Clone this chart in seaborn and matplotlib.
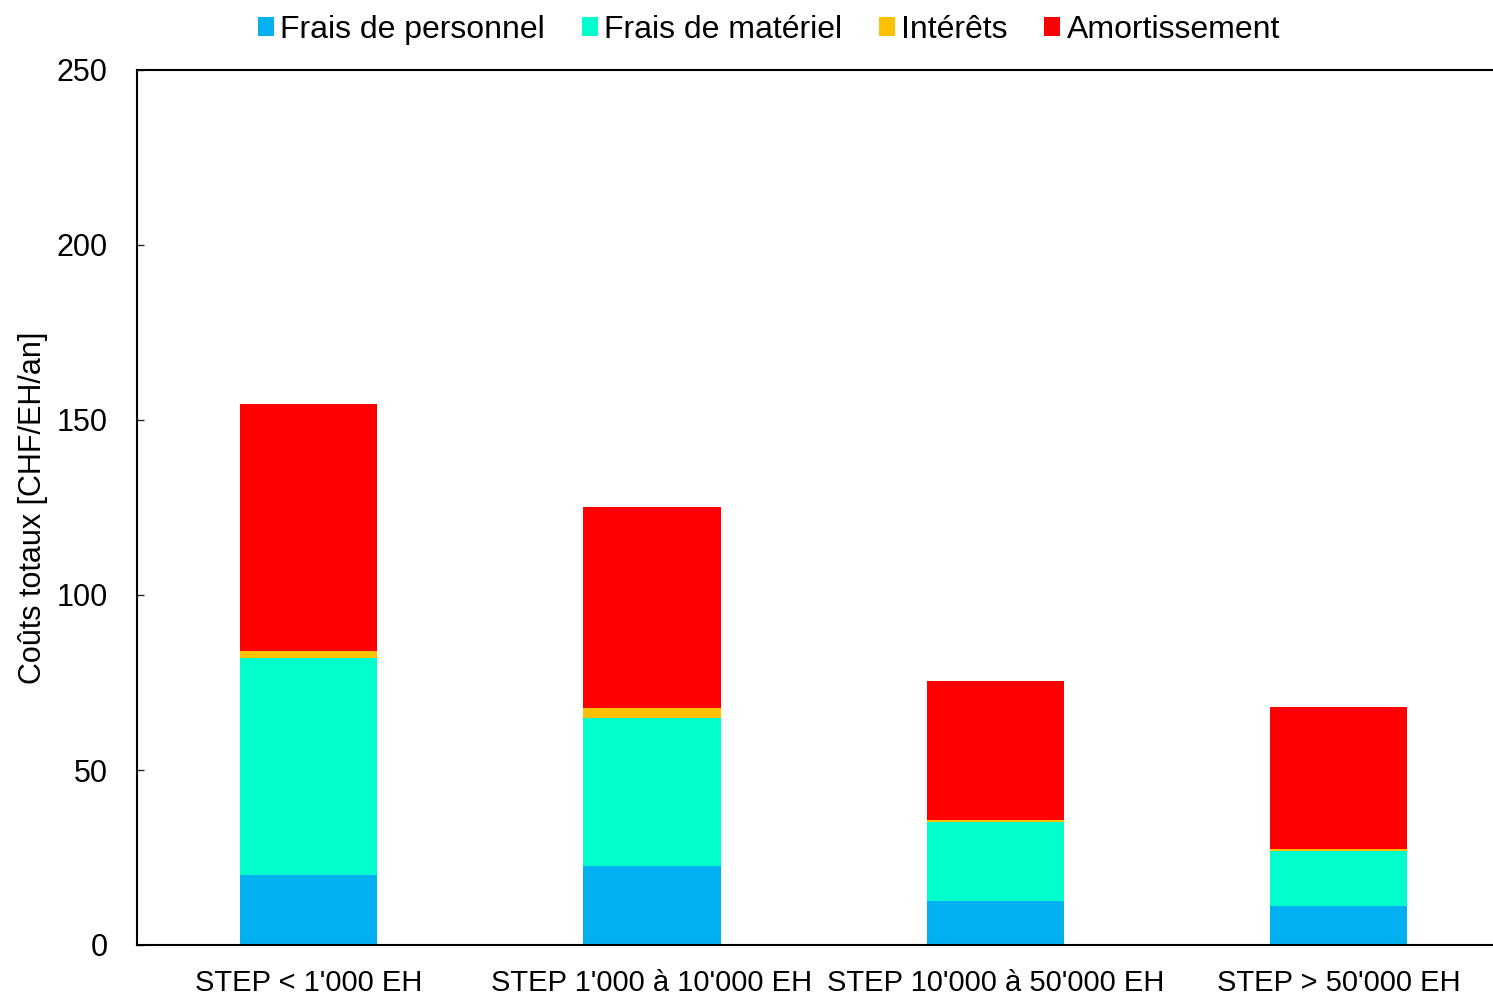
import numpy as np
import pandas as pd
import matplotlib
matplotlib.use("Agg")
import matplotlib.pyplot as plt
import seaborn as sns
from matplotlib.patches import Patch

categories = ["STEP < 1'000 EH", "STEP 1'000 à 10'000 EH", "STEP 10'000 à 50'000 EH", "STEP > 50'000 EH"]
personnel = [20.0, 22.6, 12.6, 11.1]
materiel = [62.0, 42.3, 22.6, 15.7]
interets = [2.1, 2.9, 0.4, 0.6]
amortissement = [70.5, 57.3, 39.8, 40.6]

series_names = ["Frais de personnel", "Frais de matériel", "Intérêts", "Amortissement"]
colors = ["#00B0F0", "#00FFCC", "#FFC000", "#FF0000"]

sns.set_style("white")
plt.rcParams['font.family'] = ['Liberation Sans', 'DejaVu Sans']

fig = plt.figure(figsize=(14.93, 9.94), dpi=100)
ax = fig.add_axes([137/1493, 1 - 945/994, (1493 - 137)/1493, (945 - 70)/994])

vals = np.array([personnel, materiel, interets, amortissement])
cum = np.cumsum(vals, axis=0)
# draw from the top segment down so lower segments overlay
for i in range(3, -1, -1):
    df = pd.DataFrame({"cat": categories, "v": cum[i]})
    sns.barplot(data=df, x="cat", y="v", color=colors[i], width=0.4,
                saturation=1, ax=ax, linewidth=0)

ax.set_ylim(0, 250)
ax.set_xlim(-0.5, 3.45)
ax.set_yticks([0, 50, 100, 150, 200, 250])
ax.tick_params(axis='y', direction='in', length=5, width=1, labelsize=22, pad=21, left=True,
               labelcolor='black')
ax.tick_params(axis='x', length=0, labelsize=21, pad=17, labelcolor='black')
ax.set_xlabel("")
ax.set_ylabel("Coûts totaux [CHF/EH/an]", fontsize=22, color='black')
ax.yaxis.set_label_coords(-0.066, 0.5)
for s in ["left", "bottom", "top"]:
    ax.spines[s].set_visible(True)
    ax.spines[s].set_color("black")
    ax.spines[s].set_linewidth(1.5)
ax.spines["right"].set_visible(False)

handles = [Patch(facecolor=c, edgecolor='none') for c in colors]
fig.legend(handles, series_names, loc='upper center', bbox_to_anchor=(0.515, 1.014), ncol=4,
           frameon=False, fontsize=23, handlelength=0.5, handleheight=0.55,
           handletextpad=0.2, columnspacing=1.15, labelcolor='black')

fig.savefig("out.png", dpi=100)
